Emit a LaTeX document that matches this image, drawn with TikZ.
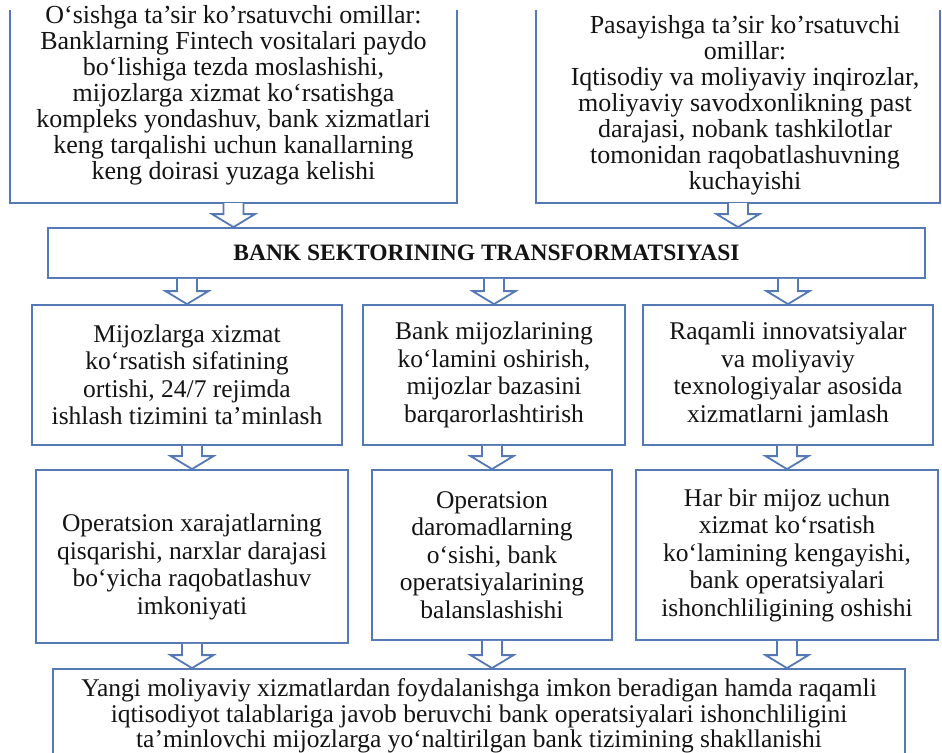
\documentclass[tikz,border=0pt]{standalone}
\usepackage{fontspec}
\setmainfont{Liberation Serif}
\usetikzlibrary{calc}
\definecolor{boxblue}{RGB}{84,121,180}
\definecolor{inktext}{RGB}{20,20,20}
\tikzset{
  edge/.style={draw=boxblue, line width=1.8pt, line join=miter},
  box/.style={edge, rectangle, inner sep=0pt, align=center, text=inktext,
    font=\fontsize{25.5}{27.5}\selectfont},
  frame/.style={rectangle, inner sep=0pt},
  txt/.style={align=center, inner sep=0pt, text=inktext,
    font=\fontsize{26}{26}\selectfont},
  bandtxt/.style={font=\bfseries\fontsize{23.5}{26}\selectfont},
  blockarrow/.style={edge, fill=white}
}
% hollow block arrow from a start point down to a tip point
\newcommand{\flowarrow}[2]{%
  \draw[blockarrow] ($(#1)+(-10,0)$) -- ($(#2)+(-10,-13)$) -- ($(#2)+(-21.5,-13)$)
    -- (#2) -- ($(#2)+(21.5,-13)$) -- ($(#2)+(10,-13)$) -- ($(#1)+(10,0)$);}
\begin{document}
\begin{tikzpicture}[x=1pt,y=-1pt]
\useasboundingbox (0,0) rectangle (942,752);
\fill[white] (0,0) rectangle (942,752);
\clip (0,0) rectangle (942,752);

% factor boxes at the top (open above)
\node[frame, minimum width=447pt, minimum height=193pt] (tl) at (233.5,106.5) {};
\draw[edge] (tl.north west) -- (tl.south west) -- (tl.south east) -- (tl.north east);
\node[txt] (tltext) at (233.5,95) {O‘sishga ta’sir ko’rsatuvchi omillar:\\
  Banklarning Fintech vositalari paydo\\ bo‘lishiga tezda moslashishi,\\
  mijozlarga xizmat ko‘rsatishga\\ kompleks yondashuv, bank xizmatlari\\
  keng tarqalishi uchun kanallarning\\ keng doirasi yuzaga kelishi};

\node[frame, minimum width=404pt, minimum height=193pt] (tr) at (738,106.5) {};
\draw[edge] (tr.north west) -- (tr.south west) -- (tr.south east) -- (tr.north east);
\node[txt] (trtext) at (745,105) {Pasayishga ta’sir ko’rsatuvchi\\ omillar:\\
  Iqtisodiy va moliyaviy inqirozlar,\\ moliyaviy savodxonlikning past\\
  darajasi, nobank tashkilotlar\\ tomonidan raqobatlashuvning\\ kuchayishi};

% central band
\node[box, bandtxt, minimum width=877pt, minimum height=50pt] (band) at (486.5,253)
  {BANK SEKTORINING TRANSFORMATSIYASI};

% second row
\node[box, minimum width=310pt, minimum height=140pt] (ml) at (187,375)
  {Mijozlarga xizmat\\ ko‘rsatish sifatining\\ ortishi, 24/7 rejimda\\ ishlash tizimini ta’minlash};
\node[box, minimum width=262pt, minimum height=140pt] (mm) at (494,375)
  {Bank mijozlarining\\ ko‘lamini oshirish,\\ mijozlar bazasini\\ barqarorlashtirish};
\node[box, minimum width=290pt, minimum height=140pt] (mr) at (788,375)
  {Raqamli innovatsiyalar\\ va moliyaviy\\ texnologiyalar asosida\\ xizmatlarni jamlash};

% third row
\node[box, minimum width=312pt, minimum height=173pt] (ll) at (192,556.5) {};
\node[txt, font=\fontsize{25.5}{27.5}\selectfont] (lltext) at (192,567)
  {Operatsion xarajatlarning\\ qisqarishi, narxlar darajasi\\ bo‘yicha raqobatlashuv\\ imkoniyati};
\node[box, minimum width=240pt, minimum height=170pt] (lm) at (492,555)
  {Operatsion\\ daromadlarning\\ o‘sishi, bank\\ operatsiyalarining\\ balanslashishi};
\node[box, minimum width=302pt, minimum height=170pt] (lr) at (787,555)
  {Har bir mijoz uchun\\ xizmat ko‘rsatish\\ ko‘lamining kengayishi,\\ bank operatsiyalari\\ ishonchliligining oshishi};

% outcome box at the bottom (runs past the lower edge)
\node[box, minimum width=852pt, minimum height=94pt, font=\fontsize{25.5}{25.5}\selectfont] (out) at (479,716)
  {Yangi moliyaviy xizmatlardan foydalanishga imkon beradigan hamda raqamli\\
   iqtisodiyot talablariga javob beruvchi bank operatsiyalari ishonchliligini\\
   ta’minlovchi mijozlarga yo‘naltirilgan bank tizimining shakllanishi};

% arrow end points
\coordinate (a1) at (tl.south |- band.north);
\coordinate (a2) at (tr.south |- band.north);
\coordinate (b1) at (ml.north |- band.south);
\coordinate (b2) at (mm.north |- band.south);
\coordinate (b3) at (mr.north |- band.south);
\coordinate (c1) at (ll.north |- ml.south);
\coordinate (c2) at (lm.north |- mm.south);
\coordinate (c3) at (lr.north |- mr.south);
\coordinate (d1) at (ll.south |- out.north);
\coordinate (d2) at (lm.south |- out.north);
\coordinate (d3) at (lr.south |- out.north);

\flowarrow{tl.south}{a1}
\flowarrow{tr.south}{a2}
\flowarrow{b1}{ml.north}
\flowarrow{b2}{mm.north}
\flowarrow{b3}{mr.north}
\flowarrow{c1}{ll.north}
\flowarrow{c2}{lm.north}
\flowarrow{c3}{lr.north}
\flowarrow{ll.south}{d1}
\flowarrow{lm.south}{d2}
\flowarrow{lr.south}{d3}
\end{tikzpicture}
\end{document}
